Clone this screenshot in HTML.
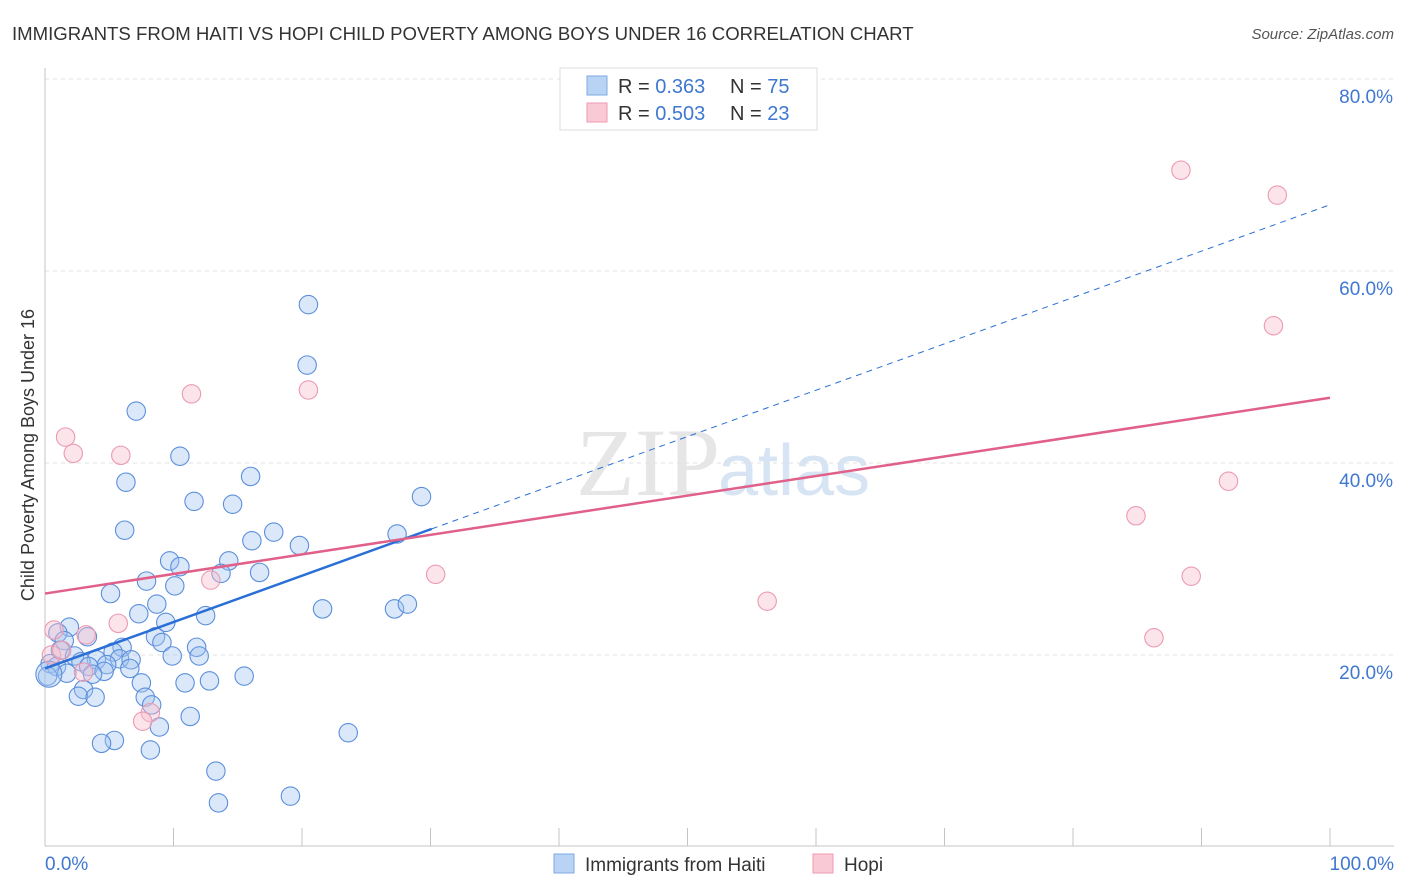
<!DOCTYPE html>
<html><head><meta charset="utf-8">
<style>
body{margin:0;background:#fff;font-family:"Liberation Sans",sans-serif;}
svg{display:block}
</style></head><body>
<svg id="chart" width="1406" height="892" xmlns="http://www.w3.org/2000/svg">
<text x="12" y="40" font-size="18.6" fill="#333">IMMIGRANTS FROM HAITI VS HOPI CHILD POVERTY AMONG BOYS UNDER 16 CORRELATION CHART</text>
<text x="1394" y="39" font-size="15" fill="#555" font-style="italic" text-anchor="end">Source: ZipAtlas.com</text>
<text x="720" y="495" font-size="96" fill="#e6e6e6" text-anchor="end" font-family="Liberation Serif,serif">ZIP</text>
<text x="718" y="495" font-size="72" fill="#d6e4f3">atlas</text>
<text transform="translate(34,455) rotate(-90)" font-size="18" fill="#333" text-anchor="middle">Child Poverty Among Boys Under 16</text>
<g id="grid"></g><g id="axes"></g><g id="pts"></g><g id="lines"></g>
<g>
<rect x="560" y="68" width="257" height="62" fill="#fff" stroke="#ddd"/>
<rect x="587" y="76" width="20" height="19" fill="#b8d3f4" stroke="#7ea8e0"/>
<rect x="587" y="103" width="20" height="19" fill="#f9c9d6" stroke="#ee9ab2"/>
<text x="618" y="93" font-size="20" fill="#333">R = <tspan fill="#3f78d0">0.363</tspan></text>
<text x="730" y="93" font-size="20" fill="#333">N = <tspan fill="#3f78d0">75</tspan></text>
<text x="618" y="120" font-size="20" fill="#333">R = <tspan fill="#3f78d0">0.503</tspan></text>
<text x="730" y="120" font-size="20" fill="#333">N = <tspan fill="#3f78d0">23</tspan></text>
</g>
<g>
<rect x="554" y="854" width="20" height="19" fill="#b8d3f4" stroke="#7ea8e0"/>
<text x="585" y="871" font-size="19" fill="#333">Immigrants from Haiti</text>
<rect x="813" y="854" width="20" height="19" fill="#f9c9d6" stroke="#ee9ab2"/>
<text x="844" y="871" font-size="19" fill="#333">Hopi</text>
</g>
</svg>
<script>
const yTicks=[20,40,60,80];
const yTickLabels=["20.0%","40.0%","60.0%","80.0%"];
const xTickLabels=["0.0%","100.0%"];
const haitiX=[20.5,20.4,7.1,10.5,6.3,16.0,11.6,14.6,29.3,6.2,17.8,16.1,19.8,27.4,9.7,14.3,10.5,16.7,13.7,7.9,10.1,5.1,8.7,21.6,27.2,28.2,7.3,12.5,9.4,1.9,1.0,8.6,1.5,3.3,9.1,6.0,11.8,1.2,5.3,2.3,9.9,12.0,5.8,6.7,4.0,2.8,0.4,0.9,4.8,6.6,3.4,4.6,3.7,1.7,0.2,15.5,12.8,10.9,7.5,3.0,2.6,3.9,7.8,8.3,11.3,8.9,23.6,5.4,4.4,8.2,13.3,13.5,19.1,0.3];
const haitiY=[56.5,50.2,45.4,40.7,38.0,38.6,36.0,35.7,36.5,33.0,32.8,31.9,31.4,32.6,29.8,29.8,29.2,28.6,28.5,27.7,27.2,26.4,25.3,24.8,24.8,25.3,24.3,24.1,23.4,22.9,22.3,21.9,21.5,21.9,21.3,20.8,20.8,20.5,20.3,19.9,19.9,19.9,19.6,19.5,19.5,19.3,19.1,18.8,19.0,18.6,18.8,18.3,18.0,18.1,17.8,17.8,17.3,17.1,17.1,16.4,15.7,15.6,15.6,14.8,13.6,12.5,11.9,11.1,10.8,10.1,7.9,4.6,5.3,18.0];
const hopiX=[88.4,95.9,95.6,20.5,11.4,1.6,2.2,5.9,92.1,84.9,30.4,12.9,89.2,56.2,5.7,86.3,0.7,3.2,0.5,1.3,3.0,8.2,7.6];
const hopiY=[70.5,67.9,54.3,47.6,47.2,42.7,41.0,40.8,38.1,34.5,28.4,27.8,28.2,25.6,23.3,21.8,22.6,22.1,20.0,20.5,18.2,14.0,13.1];
const haitiLine=[18.6,66.9], haitiSolidEnd=30.1;
const hopiLine=[26.4,46.8];
const NS="http://www.w3.org/2000/svg";
const X=v=>45+v*12.85, Y=v=>847-v*9.6;
function mk(t,a,p){const e=document.createElementNS(NS,t);for(const k in a)e.setAttribute(k,a[k]);document.getElementById(p).appendChild(e);return e;}
yTicks.forEach((t,i)=>{
 const g=mk('line',{x1:45,x2:1394,y1:Y(t),y2:Y(t),stroke:'#e2e2e2','stroke-dasharray':'4,4'},'grid');
 
 
 const l=mk('text',{x:1393,y:Y(t)+24,'font-size':19,fill:'#3f78d0','text-anchor':'end'},'axes');
 l.textContent=yTickLabels[i];
 
 
});
mk('line',{x1:45,x2:45,y1:68,y2:846,stroke:'#c4c4c4'},'axes');
mk('line',{x1:45,x2:1394,y1:846,y2:846,stroke:'#c4c4c4'},'axes');
for(let i=1;i<=10;i++){mk('line',{x1:X(i*10),x2:X(i*10),y1:828,y2:846,stroke:'#c4c4c4'},'axes');}
[[0,'start',45],[100,'end',1394]].forEach((d,i)=>{
 const l=mk('text',{x:d[2],y:870,'font-size':19,fill:'#3f78d0','text-anchor':d[1]},'axes');
 l.textContent=xTickLabels[i];
 
 
});
haitiX.forEach((x,i)=>{
 const c=mk('circle',{cx:X(x),cy:Y(haitiY[i]),r:i==haitiX.length-1?13:9.2,fill:'rgba(160,195,240,0.38)',stroke:'#5b8fdc','stroke-width':1.1},'pts');
 
 
});
hopiX.forEach((x,i)=>{
 const c=mk('circle',{cx:X(x),cy:Y(hopiY[i]),r:9.2,fill:'rgba(248,190,207,0.42)',stroke:'#ec9ab1','stroke-width':1.1},'pts');
 
 
});
const hy=x=>haitiLine[0]+(haitiLine[1]-haitiLine[0])*x/100;
let l1=mk('line',{x1:X(0),y1:Y(hy(0)),x2:X(haitiSolidEnd),y2:Y(hy(haitiSolidEnd)),stroke:'#2a6fd6','stroke-width':2.5},'lines');


let l2=mk('line',{x1:X(haitiSolidEnd),y1:Y(hy(haitiSolidEnd)),x2:X(100),y2:Y(hy(100)),stroke:'#2a6fd6','stroke-width':1,'stroke-dasharray':'6,5'},'lines');


let l3=mk('line',{x1:X(0),y1:Y(hopiLine[0]),x2:X(100),y2:Y(hopiLine[1]),stroke:'#e0608a','stroke-width':2.5},'lines');


</script>
</body></html>
